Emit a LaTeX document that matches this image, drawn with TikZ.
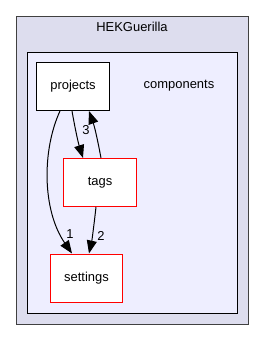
\documentclass[tikz,border=0pt]{standalone}
\usepackage{fontspec}
\setmainfont{Liberation Sans}
\usetikzlibrary{arrows.meta}
\definecolor{outerfill}{HTML}{DDDDEE}
\definecolor{innerfill}{HTML}{EEEEFF}
\definecolor{outerline}{HTML}{404040}
\tikzset{
  txt/.style={font=\fontsize{13}{15}\selectfont},
  dirbox/.style={draw=black, fill=white, line width=1bp, minimum width=72bp, minimum height=48bp, inner sep=0pt, txt},
  redbox/.style={dirbox, draw=red},
  dep/.style={draw=black, line width=1bp, -{Triangle[length=13bp,width=10bp]}},
  lbl/.style={txt, inner sep=0pt}
}
\begin{document}
\begin{tikzpicture}[x=1bp,y=-1bp]
\useasboundingbox (0,0) rectangle (264,340);
\fill[white] (0,0) rectangle (264,340);
\draw[outerline, fill=outerfill, line width=1bp] (16,16) rectangle (248,324);
\node[txt] (outer) at (132,27) {HEKGuerilla};
\draw[black, fill=innerfill, line width=1bp] (27,52) rectangle (237,313);
\node[txt] (inner) at (179,86) {components};
\node[dirbox] (projects) at (73,86.5) {projects};
\node[redbox] (tags) at (100,182.5) {tags};
\node[redbox] (settings) at (86.5,278) {settings};
\coordinate (l3) at (86,130);
\coordinate (l1) at (70,234);
\coordinate (l2) at (101,236);
\draw[dep] (projects.south -| 72,0) .. controls (75,128) and (78,142) .. (tags.north -| 83,0);
\node[lbl] (n3) at (l3) {3};
\draw[dep] (tags.north -| 101,0) .. controls (98,142) and (95,128) .. (projects.south -| 89,0);
\draw[dep] (projects.south -| 60,0) .. controls (42,150) and (42,210) .. (settings.north -| 72,0);
\node[lbl] (n1) at (l1) {1};
\draw[dep] (tags.south -| 96,0) .. controls (94,225) and (92,240) .. (settings.north -| 89,0);
\node[lbl] (n2) at (l2) {2};
\end{tikzpicture}
\end{document}
